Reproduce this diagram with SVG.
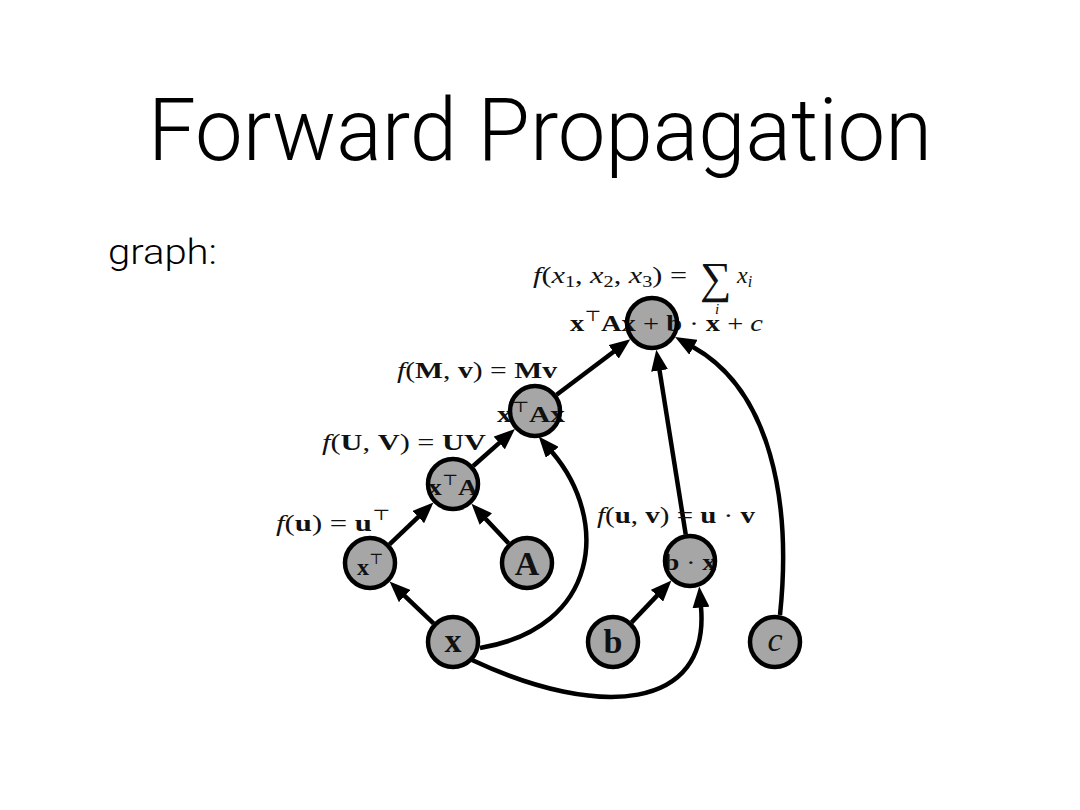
<svg xmlns="http://www.w3.org/2000/svg" width="1080" height="810" viewBox="0 0 1080 810">
<style>
.title{font-family:Roboto,"Liberation Sans",sans-serif;font-weight:300;fill:#000}
.m{font-family:"Liberation Serif","DejaVu Serif",serif;font-size:24px;fill:#111}
.b{font-weight:bold}
.i{font-style:italic}
.sup{font-size:15px;font-weight:normal}
.sub{font-size:16px}
.edge{fill:none;stroke:#000;stroke-width:4.5}
.fill{fill:#a6a6a6;stroke:none}
.ring{fill:none;stroke:#000;stroke-width:4.5}
.big{font-size:34px}
.sig{font-size:44px}
.small{font-size:15px}
</style>
<defs>
<marker id="ah" markerUnits="userSpaceOnUse" markerWidth="21" markerHeight="17" viewBox="0 0 21 17" refX="0.5" refY="8.5" orient="auto">
<path d="M0,0 L21,8.5 L0,17 z" fill="#000"/>
</marker>
</defs>
<rect width="1080" height="810" fill="#fff"/>
<text class="title" x="148" y="160" font-size="88" textLength="784" lengthAdjust="spacingAndGlyphs">Forward Propagation</text>
<text class="title" x="108" y="264" font-size="35" textLength="109" lengthAdjust="spacingAndGlyphs">graph:</text>

<g id="connectors">
<path class="edge" marker-end="url(#ah)" d="M433.5,623.4 L404.4,595.7"/>
<path class="edge" marker-end="url(#ah)" d="M389.5,544.4 L418.6,516.7"/>
<path class="edge" marker-end="url(#ah)" d="M508.5,543.3 L485.5,518.7"/>
<path class="edge" marker-end="url(#ah)" d="M473.2,466 L499.6,442.6"/>
<path class="edge" marker-end="url(#ah)" d="M556.6,394.8 L614,351.5"/>
<path class="edge" marker-end="url(#ah)" d="M631.6,622.4 L657.3,595.4"/>
<path class="edge" marker-end="url(#ah)" d="M685.7,534.3 L659.5,370"/>
<path class="edge" marker-end="url(#ah)" d="M780,615 C792,500 770,390 693,347"/>
<path class="edge" marker-end="url(#ah)" d="M480,648 C600,628 610,520 552,452"/>
<path class="edge" marker-end="url(#ah)" d="M472,660 C600,720 710,710 701,607"/>
</g>

<g id="node-sum">
<circle class="fill" cx="652" cy="323" r="25"/>
<text class="m" x="533" y="283" textLength="154" lengthAdjust="spacingAndGlyphs"><tspan class="i">f</tspan>(<tspan class="i">x</tspan><tspan class="sub" dy="4">1</tspan><tspan dy="-4">, </tspan><tspan class="i">x</tspan><tspan class="sub" dy="4">2</tspan><tspan dy="-4">, </tspan><tspan class="i">x</tspan><tspan class="sub" dy="4">3</tspan><tspan dy="-4">) =</tspan></text>
<text class="m sig" x="700" y="293">∑</text>
<text class="m i small" x="715" y="314">i</text>
<text class="m" x="737" y="283"><tspan class="i">x</tspan><tspan class="sub i" dy="4">i</tspan></text>
<text class="m" x="570" y="331" textLength="193" lengthAdjust="spacingAndGlyphs"><tspan class="b">x</tspan><tspan class="sup" dy="-10">⊤</tspan><tspan class="b" dy="10">Ax</tspan> + <tspan class="b">b</tspan> · <tspan class="b">x</tspan> + <tspan class="i">c</tspan></text>
<circle class="ring" cx="652" cy="323" r="25"/>
</g>

<g id="node-xTAx">
<circle class="fill" cx="535" cy="411" r="25"/>
<text class="m" x="397" y="378" textLength="160" lengthAdjust="spacingAndGlyphs"><tspan class="i">f</tspan>(<tspan class="b">M</tspan>, <tspan class="b">v</tspan>) = <tspan class="b">Mv</tspan></text>
<text class="m" x="497" y="422" textLength="68" lengthAdjust="spacingAndGlyphs"><tspan class="b">x</tspan><tspan class="sup" dy="-10">⊤</tspan><tspan class="b" dy="10">Ax</tspan></text>
<circle class="ring" cx="535" cy="411" r="25"/>
</g>

<g id="node-xTA">
<circle class="fill" cx="453" cy="484" r="25"/>
<text class="m" x="322" y="450" textLength="164" lengthAdjust="spacingAndGlyphs"><tspan class="i">f</tspan>(<tspan class="b">U</tspan>, <tspan class="b">V</tspan>) = <tspan class="b">UV</tspan></text>
<text class="m" x="428" y="495" textLength="50" lengthAdjust="spacingAndGlyphs"><tspan class="b">x</tspan><tspan class="sup" dy="-10">⊤</tspan><tspan class="b" dy="10">A</tspan></text>
<circle class="ring" cx="453" cy="484" r="25"/>
</g>

<g id="node-xT">
<circle class="fill" cx="370" cy="563" r="25"/>
<text class="m" x="276" y="531" textLength="114" lengthAdjust="spacingAndGlyphs"><tspan class="i">f</tspan>(<tspan class="b">u</tspan>) = <tspan class="b">u</tspan><tspan class="sup" dy="-11">⊤</tspan></text>
<text class="m" x="357" y="575"><tspan class="b">x</tspan><tspan class="sup" dy="-11">⊤</tspan></text>
<circle class="ring" cx="370" cy="563" r="25"/>
</g>

<g id="node-A">
<circle class="fill" cx="527" cy="563" r="25"/>
<text class="m b big" x="527" y="575" text-anchor="middle">A</text>
<circle class="ring" cx="527" cy="563" r="25"/>
</g>

<g id="node-bx">
<circle class="fill" cx="690" cy="561" r="25"/>
<text class="m" x="597" y="523" textLength="158" lengthAdjust="spacingAndGlyphs"><tspan class="i">f</tspan>(<tspan class="b">u</tspan>, <tspan class="b">v</tspan>) = <tspan class="b">u</tspan> · <tspan class="b">v</tspan></text>
<text class="m" x="664" y="570" textLength="52" lengthAdjust="spacingAndGlyphs"><tspan class="b">b</tspan> · <tspan class="b">x</tspan></text>
<circle class="ring" cx="690" cy="561" r="25"/>
</g>

<g id="node-x">
<circle class="fill" cx="453" cy="642" r="25"/>
<text class="m b big" x="453" y="652" text-anchor="middle">x</text>
<circle class="ring" cx="453" cy="642" r="25"/>
</g>

<g id="node-b">
<circle class="fill" cx="613" cy="642" r="25"/>
<text class="m b big" x="613" y="653" text-anchor="middle">b</text>
<circle class="ring" cx="613" cy="642" r="25"/>
</g>

<g id="node-c">
<circle class="fill" cx="775" cy="642" r="25"/>
<text class="m i big" x="775" y="651" text-anchor="middle">c</text>
<circle class="ring" cx="775" cy="642" r="25"/>
</g>
</svg>
